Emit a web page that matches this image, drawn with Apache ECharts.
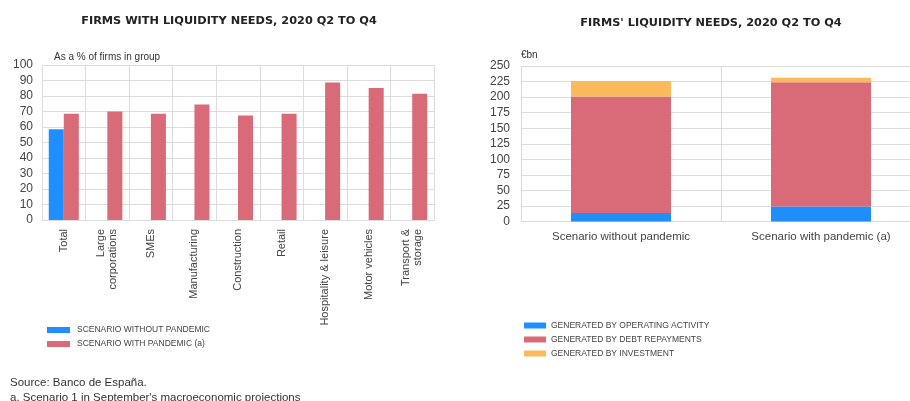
<!DOCTYPE html>
<html>
<head>
<meta charset="utf-8">
<script src="https://cdn.jsdelivr.net/npm/echarts@6/dist/echarts.min.js"></script>
<style>html,body{margin:0;padding:0;background:#fff;overflow:hidden}#c{width:921px;height:401px}</style>
</head>
<body>
<div id="c"></div>
<script>
// Left chart data
var sectors = ['Total', 'Large\ncorporations', 'SMEs', 'Manufacturing', 'Construction', 'Retail', 'Hospitality & leisure', 'Motor vehicles', 'Transport &\nstorage'];
var withoutPandemic = [58.5, null, null, null, null, null, null, null, null];
var withPandemic = [68.5, 70, 68.5, 74.5, 67.5, 68.5, 88.7, 85.2, 81.5];
var leftTicks = [0, 10, 20, 30, 40, 50, 60, 70, 80, 90, 100];

// Right chart data
var scenarios = ['Scenario without pandemic', 'Scenario with pandemic (a)'];
var operatingActivity = [13.5, 24];
var debtRepayments = [187.5, 200];
var investment = [25, 7];
var rightTicks = [0, 25, 50, 75, 100, 125, 150, 175, 200, 225, 250];

var FONT = 'Liberation Sans, Arial, sans-serif';
var TFONT = 'DejaVu Sans, sans-serif';
var BLUE = '#1f8fff', RED = '#d96a78', YEL = '#fdba5c';
var GRIDC = '#dcdcdc';

var chart = echarts.init(document.getElementById('c'));
chart.setOption({
  animation: false,
  textStyle: {fontFamily: FONT},
  title: [
    {text: 'FIRMS WITH LIQUIDITY NEEDS, 2020 Q2 TO Q4', left: 229, top: 16, textAlign: 'center', padding: 0,
     textStyle: {fontSize: 11.3, fontWeight: 'bold', color: '#222', fontFamily: TFONT}},
    {text: "FIRMS' LIQUIDITY NEEDS, 2020 Q2 TO Q4", left: 711, top: 17.5, textAlign: 'center', padding: 0,
     textStyle: {fontSize: 11.3, fontWeight: 'bold', color: '#222', fontFamily: TFONT}},
    {text: 'As a % of firms in group', left: 54, top: 52.5, padding: 0, textStyle: {fontSize: 10, fontWeight: 'normal', color: '#333', fontFamily: FONT}},
    {text: '€bn', left: 521, top: 50, padding: 0, textStyle: {fontSize: 10, fontWeight: 'normal', color: '#333', fontFamily: FONT}},
    {text: 'Source: Banco de España.', left: 10, top: 376.5, padding: 0, textStyle: {fontSize: 11.5, fontWeight: 'normal', color: '#333', fontFamily: FONT}},
    {text: "a. Scenario 1 in September's macroeconomic projections", left: 10, top: 391.5, padding: 0, textStyle: {fontSize: 11.5, fontWeight: 'normal', color: '#333', fontFamily: FONT}}
  ],
  legend: [
    {left: 47, top: 325.5, padding: 0, orient: 'vertical', itemWidth: 23, itemHeight: 6, itemGap: 5, icon: 'rect',
     data: ['SCENARIO WITHOUT PANDEMIC', 'SCENARIO WITH PANDEMIC (a)'],
     textStyle: {fontSize: 8.5, color: '#444', padding: [0, 0, 0, 2]}},
    {left: 524, top: 321, padding: 0, orient: 'vertical', itemWidth: 22, itemHeight: 6, itemGap: 5, icon: 'rect',
     data: ['GENERATED BY OPERATING ACTIVITY', 'GENERATED BY DEBT REPAYMENTS', 'GENERATED BY INVESTMENT'],
     textStyle: {fontSize: 8.5, color: '#444', padding: [0, 0, 0, 0]}}
  ],
  grid: [
    {left: 42, top: 65, width: 392, height: 155},
    {left: 521, top: 66, width: 400, height: 155.5}
  ],
  xAxis: [
    {type: 'category', gridIndex: 0, data: sectors,
     axisLine: {lineStyle: {color: GRIDC}}, axisTick: {show: false},
     splitLine: {show: true, lineStyle: {color: GRIDC}},
     axisLabel: {rotate: 90, color: '#444', fontSize: 11, margin: 9, interval: 0, lineHeight: 12}},
    {type: 'category', gridIndex: 1, data: scenarios,
     axisLine: {lineStyle: {color: GRIDC}}, axisTick: {show: false},
     splitLine: {show: true, lineStyle: {color: GRIDC}},
     axisLabel: {color: '#444', fontSize: 11.5, margin: 9.5, interval: 0}}
  ],
  yAxis: [
    {type: 'value', gridIndex: 0, min: leftTicks[0], max: leftTicks[leftTicks.length - 1], interval: 10,
     axisLine: {show: false}, axisTick: {show: false},
     splitLine: {lineStyle: {color: GRIDC}},
     axisLabel: {color: '#444', fontSize: 12, margin: 9}},
    {type: 'value', gridIndex: 1, min: rightTicks[0], max: rightTicks[rightTicks.length - 1], interval: 25,
     axisLine: {show: false}, axisTick: {show: false},
     splitLine: {lineStyle: {color: GRIDC}},
     axisLabel: {color: '#444', fontSize: 12, margin: 11}}
  ],
  series: [
    {name: 'SCENARIO WITHOUT PANDEMIC', type: 'bar', xAxisIndex: 0, yAxisIndex: 0, data: withoutPandemic,
     itemStyle: {color: BLUE}, barGap: '0%', barCategoryGap: '31%'},
    {name: 'SCENARIO WITH PANDEMIC (a)', type: 'bar', xAxisIndex: 0, yAxisIndex: 0, data: withPandemic,
     itemStyle: {color: RED}, barGap: '0%', barCategoryGap: '31%'},
    {name: 'GENERATED BY OPERATING ACTIVITY', type: 'bar', stack: 's', xAxisIndex: 1, yAxisIndex: 1, data: operatingActivity,
     itemStyle: {color: BLUE}, barWidth: '50%'},
    {name: 'GENERATED BY DEBT REPAYMENTS', type: 'bar', stack: 's', xAxisIndex: 1, yAxisIndex: 1, data: debtRepayments,
     itemStyle: {color: RED}, barWidth: '50%'},
    {name: 'GENERATED BY INVESTMENT', type: 'bar', stack: 's', xAxisIndex: 1, yAxisIndex: 1, data: investment,
     itemStyle: {color: YEL}, barWidth: '50%'}
  ]
});
</script>
</body>
</html>
